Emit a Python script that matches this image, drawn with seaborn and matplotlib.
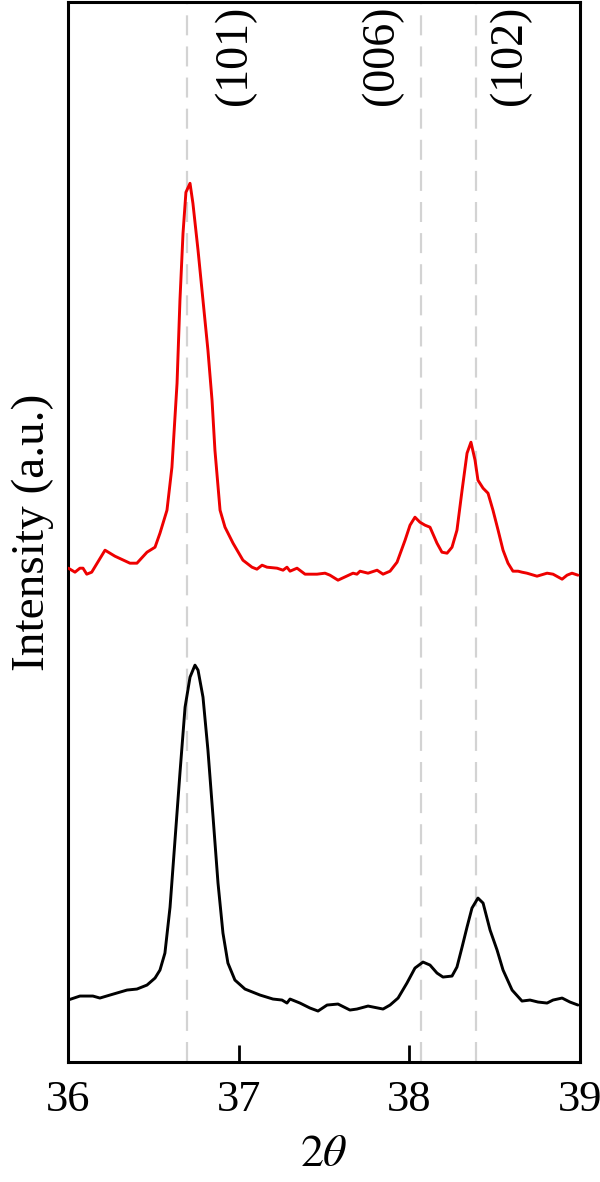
import numpy as np
import pandas as pd
import matplotlib
matplotlib.use('Agg')
import matplotlib.pyplot as plt
import matplotlib.transforms as mtransforms
import seaborn as sns

# --- data (intensity in arbitrary units) ---
red_2theta = [36.002, 36.041, 36.070, 36.088, 36.110, 36.139, 36.217, 36.275, 36.363, 36.404,
              36.463, 36.510, 36.539, 36.580, 36.609, 36.639, 36.656, 36.674, 36.691, 36.715,
              36.732, 36.762, 36.791, 36.820, 36.844, 36.861, 36.891, 36.920, 36.967, 37.025,
              37.078, 37.107, 37.137, 37.166, 37.225, 37.260, 37.283, 37.301, 37.342, 37.389,
              37.459, 37.506, 37.535, 37.582, 37.670, 37.693, 37.711, 37.758, 37.811, 37.846,
              37.887, 37.928, 37.975, 38.004, 38.033, 38.062, 38.092, 38.121, 38.162, 38.191,
              38.221, 38.250, 38.279, 38.309, 38.338, 38.361, 38.385, 38.402, 38.432, 38.461,
              38.490, 38.520, 38.549, 38.578, 38.607, 38.637, 38.660, 38.689, 38.748, 38.807,
              38.842, 38.895, 38.924, 38.953, 38.988]
red_intensity = [494, 490, 494, 494, 488, 490, 512, 506, 499, 499,
                 510, 515, 529, 552, 595, 679, 762, 829, 870, 879,
                 859, 812, 762, 712, 662, 612, 552, 535, 519, 502,
                 495, 493, 497, 495, 494, 492, 495, 491, 494, 488,
                 488, 489, 487, 482, 489, 488, 491, 489, 492, 488,
                 491, 500, 522, 537, 545, 540, 537, 535, 519, 510,
                 509, 515, 532, 572, 609, 620, 602, 582, 574, 569,
                 552, 532, 512, 499, 491, 491, 490, 489, 486, 489,
                 488, 483, 487, 489, 487]

black_2theta = [36.000, 36.070, 36.146, 36.187, 36.246, 36.346, 36.404, 36.463, 36.510, 36.539,
                36.568, 36.598, 36.627, 36.656, 36.686, 36.715, 36.744, 36.762, 36.791, 36.820,
                36.850, 36.879, 36.908, 36.937, 36.978, 37.037, 37.125, 37.201, 37.254, 37.283,
                37.301, 37.359, 37.418, 37.465, 37.518, 37.582, 37.652, 37.693, 37.758, 37.846,
                37.887, 37.934, 37.986, 38.033, 38.080, 38.121, 38.162, 38.197, 38.250, 38.279,
                38.309, 38.338, 38.367, 38.402, 38.432, 38.473, 38.514, 38.549, 38.602, 38.660,
                38.707, 38.754, 38.807, 38.842, 38.895, 38.941, 38.988]
black_intensity = [62, 66, 66, 64, 67, 72, 73, 77, 84, 92,
                   109, 155, 222, 289, 355, 385, 397, 392, 365, 312,
                   245, 179, 129, 99, 82, 73, 67, 63, 62, 59,
                   63, 59, 54, 51, 57, 58, 52, 53, 56, 53,
                   57, 64, 79, 94, 100, 97, 89, 85, 86, 95,
                   115, 135, 154, 164, 159, 132, 112, 92, 72, 61,
                   62, 60, 59, 62, 64, 60, 57]

peak_labels = ['(101)', '(006)', '(102)']
peak_positions = [36.70, 38.07, 38.39]
x_ticks = [36, 37, 38, 39]

# --- style ---
sns.set_style('ticks')
plt.rcParams['font.family'] = ['Liberation Serif', 'DejaVu Serif']
plt.rcParams['mathtext.fontset'] = 'stix'
plt.rcParams['text.color'] = 'black'
plt.rcParams['axes.labelcolor'] = 'black'
plt.rcParams['xtick.color'] = 'black'
plt.rcParams['axes.edgecolor'] = 'black'

red_df = pd.DataFrame({'two_theta': red_2theta, 'intensity': red_intensity})
black_df = pd.DataFrame({'two_theta': black_2theta, 'intensity': black_intensity})

fig = plt.figure(figsize=(6, 11.82), dpi=100)
ax = fig.add_axes([0.1133, 0.1015, 0.8534, 0.8965])

# reference lines for the reflections
for pos in peak_positions:
    ax.axvline(pos, color='#d3d3d3', lw=1.6, ls=(0, (9, 5)), zorder=1)

sns.lineplot(data=red_df, x='two_theta', y='intensity', color='#ee0000', lw=2.1,
             ax=ax, zorder=3, estimator=None, sort=False)
sns.lineplot(data=black_df, x='two_theta', y='intensity', color='black', lw=2.1,
             ax=ax, zorder=3, estimator=None, sort=False)

# peak labels, rotated, at the top of the frame
label_offsets = [0.28, -0.23, 0.20]
trans = mtransforms.blended_transform_factory(ax.transData, ax.transAxes)
for lab, pos, off in zip(peak_labels, peak_positions, label_offsets):
    ax.text(pos + off, 0.997, lab, transform=trans, rotation=90,
            ha='center', va='top', fontsize=33, color='black')

ax.set_xlim(36, 39)
ax.set_ylim(0, 1060)
ax.set_xticks(x_ticks)
ax.set_xticklabels([str(t) for t in x_ticks])
ax.set_yticks([])
ax.tick_params(axis='x', direction='in', length=12, width=2, labelsize=32,
               pad=13, colors='black')
for side in ax.spines.values():
    side.set_linewidth(2.2)
    side.set_color('black')
    side.set_visible(True)

ax.set_xlabel(r'$2\theta$', fontsize=33, labelpad=10)
ax.set_ylabel('Intensity (a.u.)', fontsize=34, labelpad=10)

plt.savefig('out.png', dpi=100)
plt.close()
